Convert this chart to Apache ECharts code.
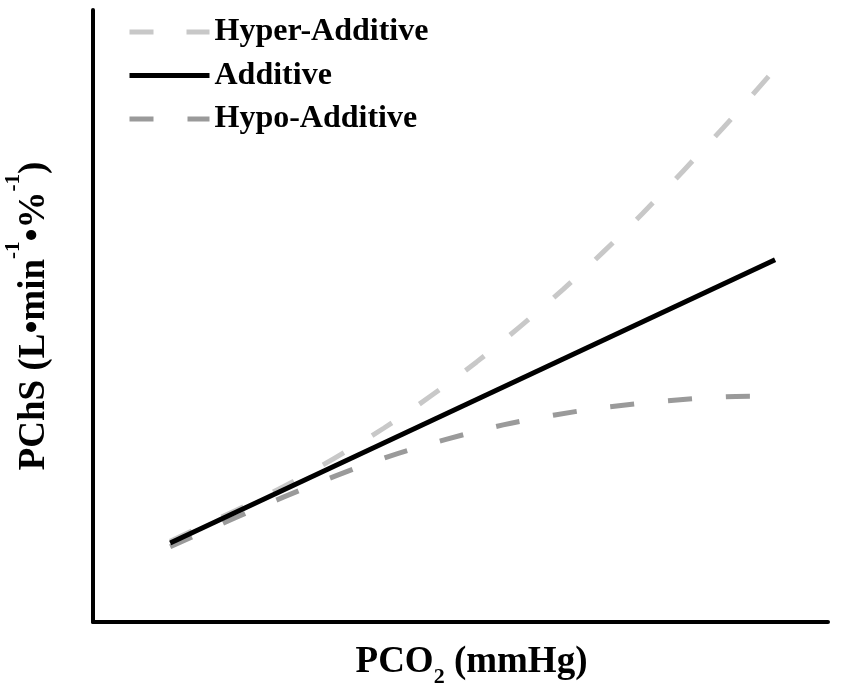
<!DOCTYPE html>
<html>
<head>
<meta charset="utf-8">
<script src="https://cdn.jsdelivr.net/npm/echarts@6/dist/echarts.min.js"></script>
<style>
  html, body { margin: 0; padding: 0; background: #fff; }
  #chart { width: 846px; height: 689px; }
</style>
</head>
<body>
<div id="chart"></div>
<script>
// curves, arbitrary units 0-100 on both axes
const seriesNames = ['Hyper-Additive', 'Additive', 'Hypo-Additive'];

const hyperX = [10.5, 25.9, 39.6, 52.2, 64.0, 74.8, 85.7, 92.1];
const hyperY = [13.2, 22.1, 31.7, 42.5, 54.4, 66.8, 80.7, 89.4];

const additiveX = [10.5, 92.8];
const additiveY = [12.9, 59.2];

const hypoX = [10.5, 25.9, 40.1, 55.8, 69.9, 86.1, 92.8];
const hypoY = [12.3, 20.4, 27.0, 32.2, 35.1, 36.8, 36.9];

const serif = '"Liberation Serif", "Times New Roman", serif';
const pairs = (xs, ys) => xs.map((x, i) => [x, ys[i]]);

const axisBase = {
    type: 'value',
    min: 0,
    max: 100,
    axisLine: { show: true, onZero: false, lineStyle: { color: '#000', width: 4 } },
    axisTick: { show: false },
    axisLabel: { show: false },
    splitLine: { show: false },
    nameLocation: 'middle',
};

const option = {
    animation: false,
    backgroundColor: '#fff',
    grid: { left: 93, right: 18, top: 10, bottom: 67, outerBoundsMode: 'none', containLabel: false },
    legend: {
        orient: 'vertical',
        left: 122,
        top: 11,
        itemWidth: 80,
        itemHeight: 8,
        itemGap: 11.5,
        data: seriesNames,
        lineStyle: { width: 5 },
        itemStyle: { color: 'transparent', borderWidth: 0 },
        textStyle: {
            fontFamily: serif,
            fontWeight: 'bold',
            fontSize: 32,
            color: '#000',
            lineHeight: 32,
        },
    },
    xAxis: {
        ...axisBase,
        name: '{t|PCO}{sub|2}{t| (mmHg)}',
        nameGap: 14,
        nameTextStyle: {
            padding: [0, 0, 0, 22],
            rich: {
                t: { fontFamily: serif, fontWeight: 'bold', fontSize: 37, color: '#000', lineHeight: 52 },
                sub: { fontFamily: serif, fontWeight: 'bold', fontSize: 22, color: '#000', lineHeight: 52, verticalAlign: 'bottom' },
            },
        },
    },
    yAxis: {
        ...axisBase,
        name: '{t|PChS (L•min}{sup|-1}{t|•%}{sup|-1}{t|)}',
        nameGap: 28,
        nameTextStyle: {
            rich: {
                t: { fontFamily: serif, fontWeight: 'bold', fontSize: 37, color: '#000', lineHeight: 62 },
                sup: { fontFamily: serif, fontWeight: 'bold', fontSize: 21, color: '#000', lineHeight: 62, verticalAlign: 'top' },
            },
        },
    },
    series: [
        {
            name: 'Hyper-Additive',
            type: 'line',
            smooth: 0.3,
            symbol: 'none',
            z: 2,
            data: pairs(hyperX, hyperY),
            color: '#c8c8c8',
            lineStyle: { color: '#c8c8c8', width: 5, type: [24, 33], cap: 'butt' },
        },
        {
            name: 'Hypo-Additive',
            type: 'line',
            smooth: 0.3,
            symbol: 'none',
            z: 2,
            data: pairs(hypoX, hypoY),
            color: '#9a9a9a',
            lineStyle: { color: '#9a9a9a', width: 5, type: [24, 34], cap: 'butt' },
        },
        {
            name: 'Additive',
            type: 'line',
            symbol: 'none',
            z: 3,
            data: pairs(additiveX, additiveY),
            color: '#000',
            lineStyle: { color: '#000', width: 5 },
        },
    ],
};

const chart = echarts.init(document.getElementById('chart'));
chart.setOption(option);
</script>
</body>
</html>
